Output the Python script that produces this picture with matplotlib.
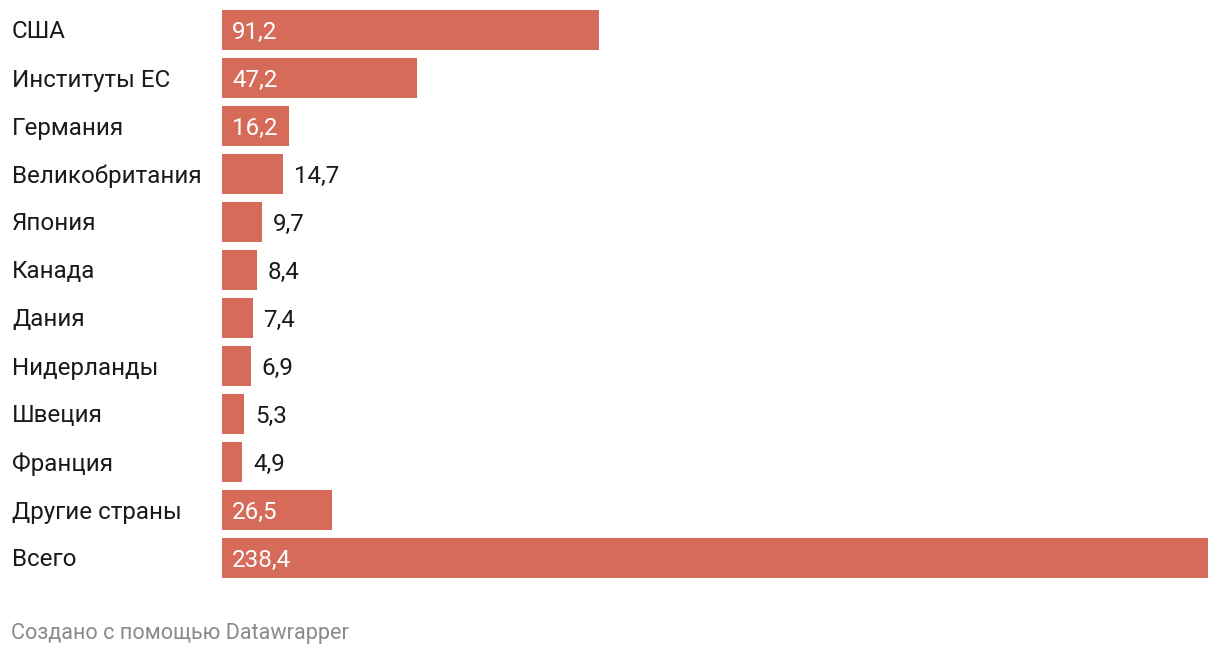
import matplotlib
matplotlib.use("Agg")
import matplotlib.pyplot as plt

categories = ["США", "Институты ЕС", "Германия", "Великобритания", "Япония", "Канада",
              "Дания", "Нидерланды", "Швеция", "Франция", "Другие страны", "Всего"]
values = [91.2, 47.2, 16.2, 14.7, 9.7, 8.4, 7.4, 6.9, 5.3, 4.9, 26.5, 238.4]
value_labels = ["91,2", "47,2", "16,2", "14,7", "9,7", "8,4", "7,4", "6,9", "5,3", "4,9", "26,5", "238,4"]
footer = "Создано с помощью Datawrapper"

plt.rcParams['font.family'] = ['Roboto', 'DejaVu Sans']

W, H = 1220, 654
fig = plt.figure(figsize=(W / 100, H / 100), dpi=100)
x0, x1 = 222, 1208
ytop, ybot = 5.5, 581.5
ax = fig.add_axes([x0 / W, 1 - ybot / H, (x1 - x0) / W, (ybot - ytop) / H])
ax.set_xlim(0, max(values))
ax.set_ylim(len(values) - 0.5, -0.5)
ax.axis("off")

color = "#d66b5a"
ys = list(range(len(values)))
ax.barh(ys, values, height=40 / 48, color=color)

fs = 17.4
px_per_unit = (x1 - x0) / max(values)
for y, v, lab, cat in zip(ys, values, value_labels, categories):
    fig.text(12 / W, 1 - (29.5 + 48 * y) / H, cat, fontsize=fs, color="#1a1a1a",
             va="center_baseline", ha="left")
    if v * px_per_unit > 64:
        ax.annotate(lab, (0, y), xytext=(10 * 0.72, 0), textcoords="offset points",
                    color="white", fontsize=fs, va="center_baseline", ha="left")
    else:
        ax.annotate(lab, (v, y), xytext=(11 * 0.72, 0), textcoords="offset points",
                    color="#1a1a1a", fontsize=fs, va="center_baseline", ha="left")

fig.text(11 / W, 1 - 631 / H, footer, fontsize=15.6, color="#8a8a8a", va="center_baseline", ha="left")

fig.savefig("out.png", dpi=100, facecolor="white")
